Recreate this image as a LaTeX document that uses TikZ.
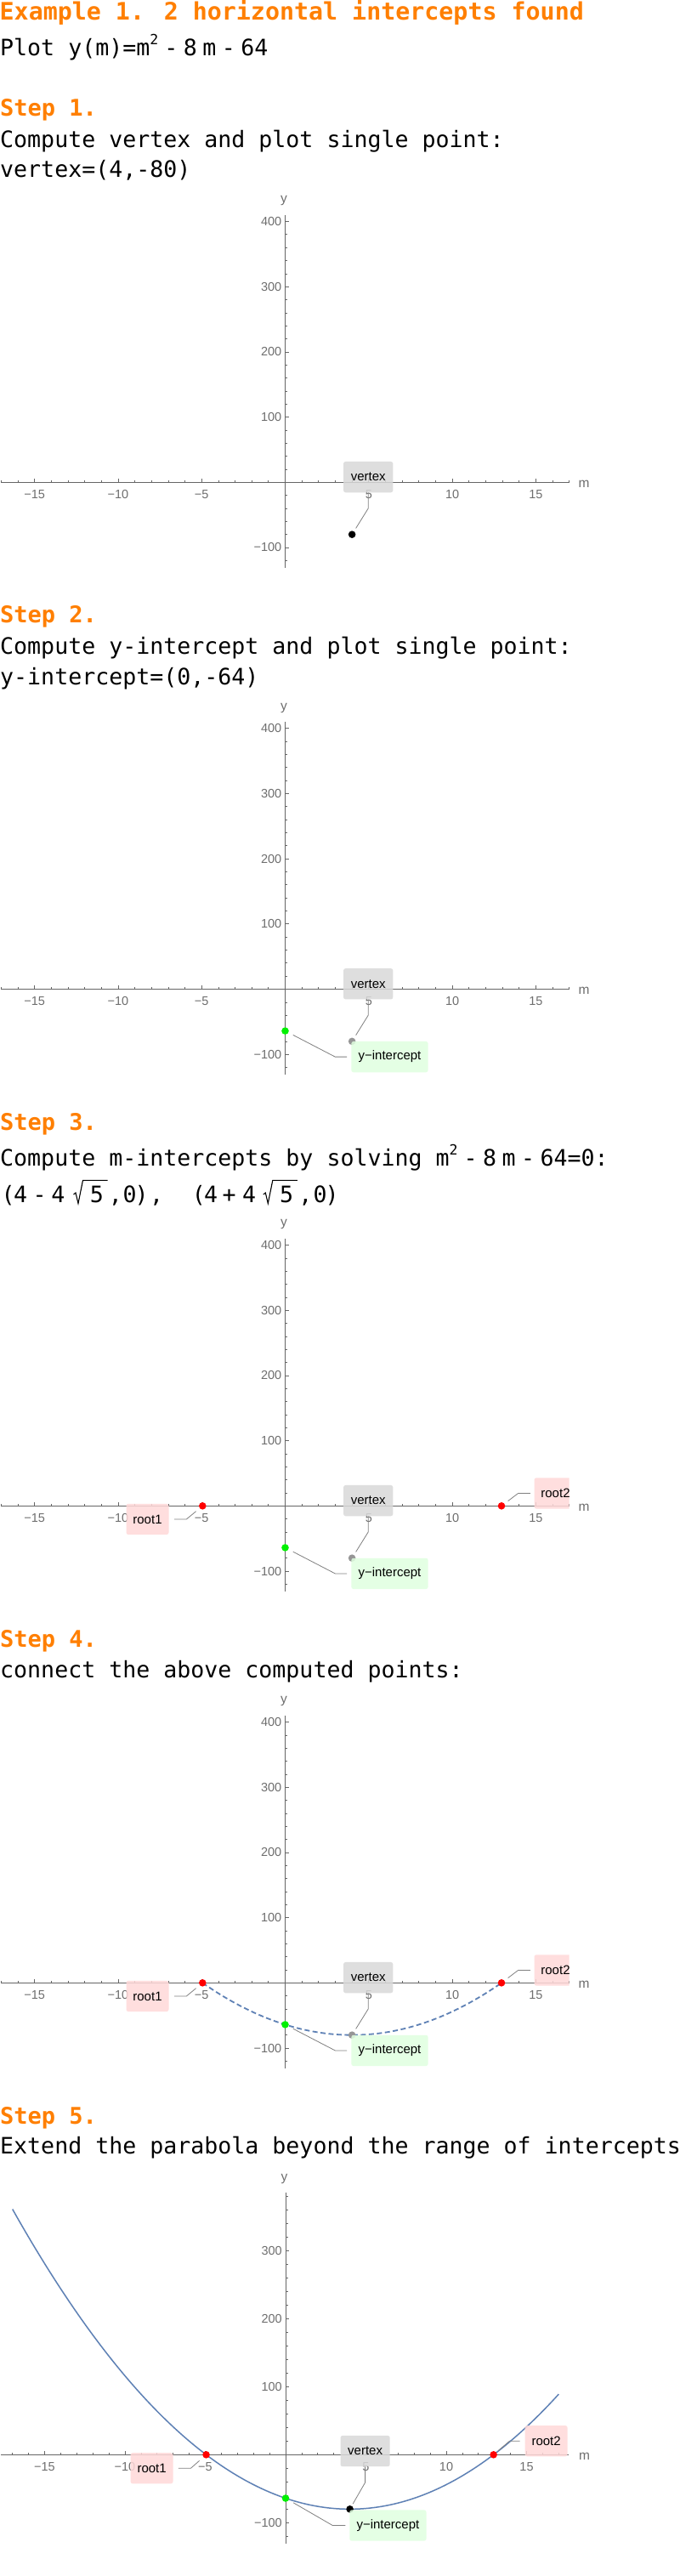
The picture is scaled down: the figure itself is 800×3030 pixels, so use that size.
\documentclass[tikz,border=0pt]{standalone}
\usepackage{fontspec}
\newfontfamily\monofont{DejaVu Sans Mono}
\newfontfamily\sansfnt{Liberation Sans}
\definecolor{heading}{RGB}{255,127,0}
\definecolor{axgray}{RGB}{102,102,102}
\definecolor{labgray}{RGB}{110,110,110}
\definecolor{boxgray}{RGB}{217,217,217}
\definecolor{boxgreen}{RGB}{224,255,224}
\definecolor{boxred}{RGB}{255,217,217}
\definecolor{curveblue}{RGB}{94,129,181}
\definecolor{leadgray}{RGB}{128,128,128}
\definecolor{ptgray}{RGB}{150,150,150}
\definecolor{ptgreen}{RGB}{0,240,0}
\definecolor{ptred}{RGB}{255,0,0}
\newcommand\supt{\raisebox{13pt}{\fontsize{16.5}{17}\selectfont 2}}
\newcommand\glyphat[2]{\makebox[0pt][l]{\hspace*{#1pt}\makebox[0pt][c]{#2}}}
\tikzset{
  txt/.style={anchor=base west, inner sep=0pt, font=\monofont\fontsize{26.6}{30}\selectfont},
  headtxt/.style={anchor=base west, inner sep=0pt, text=heading, font=\monofont\bfseries\fontsize{27}{30}\selectfont},
  titletxt/.style={anchor=base west, inner sep=0pt, text=heading, font=\monofont\bfseries\fontsize{28.3}{30}\selectfont},
  axisline/.style={draw=axgray, line width=0.9pt},
  tickmark/.style={draw=axgray, line width=0.7pt},
  ticklabel/.style={inner sep=0pt, text=labgray, font=\sansfnt\fontsize{14.5}{16}\selectfont},
  axlabel/.style={inner sep=0pt, text=labgray, font=\sansfnt\fontsize{15.5}{16}\selectfont},
  lblbox/.style={rounded corners=2.5pt, inner sep=0pt, minimum height=36.3pt, fill opacity=0.85, text opacity=1, text=black, font=\sansfnt\fontsize{15}{16}\selectfont},
  vbox/.style={lblbox, fill=boxgray, minimum width=58.3pt},
  ybox/.style={lblbox, fill=boxgreen, minimum width=90.3pt},
  rbox/.style={lblbox, fill=boxred, minimum width=50pt},
  leader/.style={draw=leadgray, line width=0.8pt},
  ptdot/.style={circle, inner sep=0pt, minimum size=8.6pt, draw=none},
  parab/.style={draw=curveblue, line width=1.5pt},
  radical/.style={draw=black, line width=1.1pt, line join=miter},
}
% axes of one plot; uses \sx \sy \mlo \mhi \ylo \yhi \yminlist \ymajlist
\newcommand\plotaxes[1]{%
  \draw[axisline] ({\mlo*\sx},0) -- ({\mhi*\sx},0);
  \draw[axisline] (0,{-\ylo*\sy}) -- (0,{-\yhi*\sy});
  \foreach \i in {-17,...,-1,1,2,...,17} \draw[tickmark] ({\i*\sx},0) -- ++(0,-2.6);
  \foreach \i/\lbl in {-15/−15,-10/−10,-5/−5,5/5,10/10,15/15} {
    \draw[tickmark] ({\i*\sx},0) -- ++(0,-4.5);
    \node[ticklabel] (#1-xl\i) at ({\i*\sx},13.8) {\lbl};
  }
  \foreach \v in \yminlist \draw[tickmark] (0,{-\v*\sy}) -- ++(2.6,0);
  \foreach \v/\lbl in \ymajlist {
    \draw[tickmark] (0,{-\v*\sy}) -- ++(4.2,0);
    \node[ticklabel, anchor=east] (#1-yl\v) at (-4,{-\v*\sy}) {\lbl};
  }
  \node[axlabel] (#1-ylab) at (-1.6,{-\yhi*\sy-16.5}) {y};
  \node[axlabel] (#1-mlab) at (351.5,2) {m};
}
% points and callouts for plots 1-4; #1 prefix, #2 vertex colour, #3 level
\newcommand\calloutsA[3]{%
  \ifnum#3>2
    \node[ptdot, fill=ptred] (#1-r1pt) at (-97.2,0) {};
    \node[ptdot, fill=ptred] (#1-r2pt) at (254.5,0) {};
  \fi
  \ifnum#3>1
    \node[ptdot, fill=ptgreen] (#1-ypt) at (0,49.09) {};
  \fi
  \node[ptdot, fill=#2] (#1-vpt) at (78.64,61.36) {};
  \node[vbox] (#1-vbox) at (97.7,-6.2) {vertex};
  \coordinate (#1-vbend) at (97.7,30.7);
  \draw[leader, shorten >=8.5pt] (#1-vbox.south) -- (#1-vbend) -- (#1-vpt.center);
  \ifnum#3>1
    \node[ybox] (#1-ybox) at (123,79.6) {y−intercept};
    \coordinate (#1-ybend) at (58.8,79.6);
    \draw[leader, shorten <=10.5pt, shorten >=5pt] (#1-ypt.center) -- (#1-ybend) -- (#1-ybox.west);
  \fi
  \ifnum#3>2
    \node[rbox] (#1-r1box) at (-162,15.6) {root1};
    \coordinate (#1-r1bend) at (-116.1,15.6);
    \draw[leader, shorten <=6.5pt, shorten >=10pt] (#1-r1box.east) -- (#1-r1bend) -- (#1-r1pt.center);
    \begin{scope}
      \clip (-340,-400) rectangle (334.2,150);
      \node[rbox] (#1-r2box) at (318,-14.9) {root2};
    \end{scope}
    \coordinate (#1-r2bend) at (274.2,-14.9);
    \draw[leader, shorten <=9.6pt, shorten >=4.5pt] (#1-r2pt.center) -- (#1-r2bend) -- (#1-r2box.west);
  \fi
}
\newcommand\paramsA{%
  \def\sx{19.66}\def\sy{0.767}\def\mlo{-17}\def\mhi{17}\def\ylo{-131}\def\yhi{410}%
  \def\yminlist{-120,-80,-60,-40,-20,20,40,60,80,120,140,160,180,220,240,260,280,320,340,360,380}%
  \def\ymajlist{-100/−100,100/100,200/200,300/300,400/400}%
}
\begin{document}
\begin{tikzpicture}[x=1pt,y=-1pt]
\useasboundingbox (0,0) rectangle (800,3030);
\fill[white] (0,0) rectangle (800,3030);

% ---------- texts ----------
\node[titletxt] (title) at (-0.5,23.3) {Example 1. 2 horizontal intercepts found};
\node[txt] (plotfn) at (0,65) {Plot y(m)=m\supt\hspace{7pt}-\hspace{6.5pt}8\hspace{6.5pt}m\hspace{6.5pt}-\hspace{6.5pt}64};

\node[headtxt] (step1) at (0,136.7) {Step 1.};
\node[txt] (s1a) at (0,173.3) {Compute vertex and plot single point:};
\node[txt] (s1b) at (0,208.3) {vertex=(4,-80)};

\node[headtxt] (step2) at (0,732.7) {Step 2.};
\node[txt] (s2a) at (0,769) {Compute y-intercept and plot single point:};
\node[txt] (s2b) at (0,805) {y-intercept=(0,-64)};

\node[headtxt] (step3) at (0,1329.3) {Step 3.};
\node[txt] (s3a) at (0,1371.5) {Compute m-intercepts by solving m\supt\hspace{7pt}-\hspace{6.5pt}8\hspace{6.5pt}m\hspace{6.5pt}-\hspace{6.5pt}64=0:};
\node[txt] (s3b) at (0,1414) {\glyphat{8.9}{(}\glyphat{23.5}{4}\glyphat{45.9}{-}\glyphat{67.8}{4}\glyphat{113.3}{5}\glyphat{135.2}{,}\glyphat{152}{0}\glyphat{166}{)}\glyphat{183.5}{,}\glyphat{233.3}{(}\glyphat{247.5}{4}\glyphat{269}{+}\glyphat{292.4}{4}\glyphat{336.5}{5}\glyphat{358.8}{,}\glyphat{375.9}{0}\glyphat{390}{)}};
\draw[radical] (86.5,1405) -- (89,1403) -- (92,1415.5) -- (97.5,1388.3) -- (126.5,1388.3);
\draw[radical] (309.8,1405) -- (312.3,1403) -- (315.3,1415.5) -- (320.8,1388.3) -- (349.8,1388.3);

\node[headtxt] (step4) at (0,1937.3) {Step 4.};
\node[txt] (s4a) at (0,1973.3) {connect the above computed points:};

\node[headtxt] (step5) at (0,2498.3) {Step 5.};
\node[txt] (s5a) at (0,2533.3) {Extend the parabola beyond the range of intercepts};

% ---------- plot 1 ----------
\begin{scope}[shift={(335.5,567.3)}]
  \paramsA
  \plotaxes{p1}
  \calloutsA{p1}{black}{1}
\end{scope}

% ---------- plot 2 ----------
\begin{scope}[shift={(335.5,1163.5)}]
  \paramsA
  \plotaxes{p2}
  \calloutsA{p2}{ptgray}{2}
\end{scope}

% ---------- plot 3 ----------
\begin{scope}[shift={(335.5,1771.3)}]
  \paramsA
  \plotaxes{p3}
  \calloutsA{p3}{ptgray}{3}
\end{scope}

% ---------- plot 4 ----------
\begin{scope}[shift={(335.5,2332.3)}]
  \paramsA
  \plotaxes{p4}
  \draw[parab, line width=1.8pt, dash pattern=on 6pt off 3.5pt] plot[domain=-4.944:12.944, samples=70, smooth] ({\x*\sx},{-((\x)*(\x)-8*(\x)-64)*\sy});
  \calloutsA{p4}{ptgray}{4}
\end{scope}

% ---------- plot 5 ----------
\begin{scope}[shift={(336,2887.3)}]
  \def\sx{18.9}\def\sy{0.8}\def\mlo{-17.7}\def\mhi{17.64}\def\ylo{-130.5}\def\yhi{385}
  \def\yminlist{-120,-80,-60,-40,-20,20,40,60,80,120,140,160,180,220,240,260,280,320,340,360,380}
  \def\ymajlist{-100/−100,100/100,200/200,300/300}
  \plotaxes{p5}
  \draw[parab] plot[domain=-17:17, samples=120, smooth] ({\x*\sx},{-((\x)*(\x)-8*(\x)-64)*\sy});
  \node[ptdot, fill=ptred] (p5-r1pt) at (-93.44,0) {};
  \node[ptdot, fill=ptred] (p5-r2pt) at (244.64,0) {};
  \node[ptdot, fill=ptgreen] (p5-ypt) at (0,51.2) {};
  \node[ptdot, fill=black] (p5-vpt) at (75.6,64) {};
  \node[vbox, minimum width=58.2pt] (p5-vbox) at (93.6,-4.3) {vertex};
  \coordinate (p5-vbend) at (93.6,32.7);
  \draw[leader, shorten >=7.1pt] (p5-vbox.south) -- (p5-vbend) -- (p5-vpt.center);
  \node[ybox] (p5-ybox) at (120.4,83.2) {y−intercept};
  \coordinate (p5-ybend) at (55.3,83.2);
  \draw[leader, shorten <=10.6pt, shorten >=4.6pt] (p5-ypt.center) -- (p5-ybend) -- (p5-ybox.west);
  \node[rbox] (p5-r1box) at (-157.4,15.9) {root1};
  \coordinate (p5-r1bend) at (-111.5,15.9);
  \draw[leader, shorten <=6.1pt, shorten >=10.6pt] (p5-r1box.east) -- (p5-r1bend) -- (p5-r1pt.center);
  \node[rbox] (p5-r2box) at (306.6,-16.1) {root2};
  \coordinate (p5-r2bend) at (263.5,-16.1);
  \draw[leader, shorten <=7.2pt, shorten >=5.7pt] (p5-r2pt.center) -- (p5-r2bend) -- (p5-r2box.west);
\end{scope}
\end{tikzpicture}
\end{document}
